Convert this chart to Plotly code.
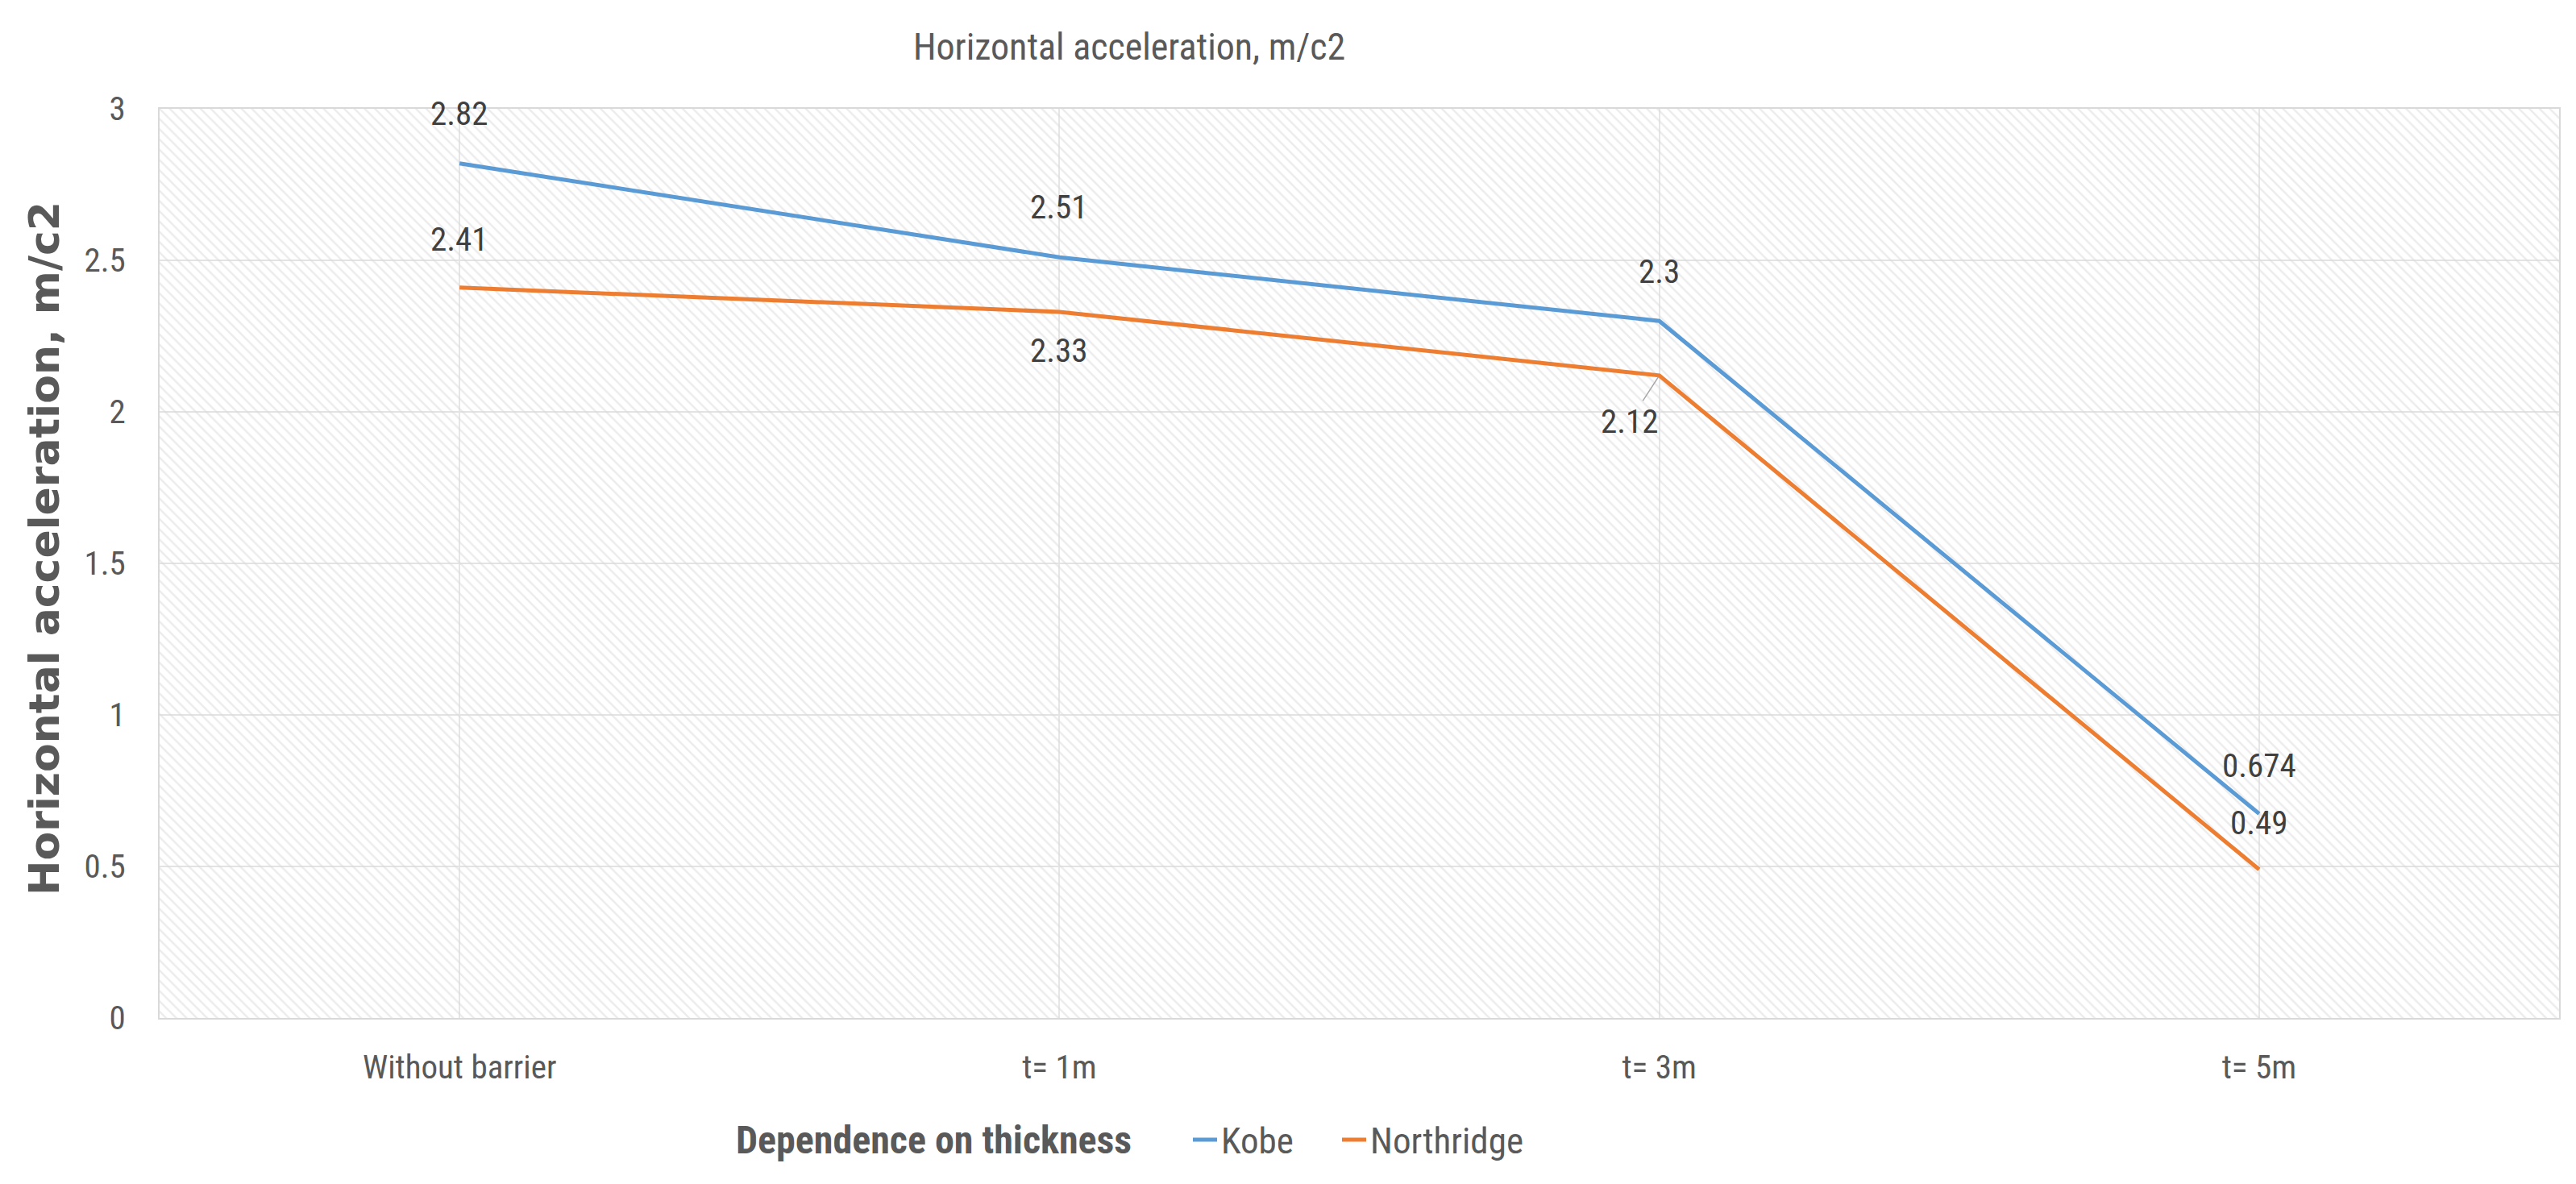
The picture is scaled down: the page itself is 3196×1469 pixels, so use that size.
import plotly.graph_objects as go

# ---- data ----
categories = ["Without barrier", "t= 1m", "t= 3m", "t= 5m"]
kobe = [2.82, 2.51, 2.3, 0.674]
northridge = [2.41, 2.33, 2.12, 0.49]
y_ticks = [0, 0.5, 1, 1.5, 2, 2.5, 3]

title_text = "Horizontal acceleration, m/c2"
y_title_text = "Horizontal acceleration, m/c2"
x_title_text = "Dependence on thickness"

# ---- styles ----
W, H = 3196, 1469
ML, MR, MT, MB = 190, 29, 127, 214
NARROW = "Liberation Sans Narrow, Arial Narrow, Roboto Condensed, sans-serif"
KOBE_COLOR = "#5B9BD5"
NR_COLOR = "#ED7D31"
TXT = "#595959"
LBL = "#404040"
Y_MAX = y_ticks[-1]
PW = W - ML - MR

fig = go.Figure()

# hatched plot background (bars spanning full category width up to axis top)
fig.add_trace(go.Bar(
    x=categories, y=[Y_MAX] * len(categories), width=1,
    marker=dict(color="rgba(0,0,0,0)", line=dict(width=0),
                pattern=dict(shape="\\", fgcolor="#d9d9d9", bgcolor="rgba(0,0,0,0)",
                             size=9, solidity=0.28)),
    hoverinfo="skip", showlegend=False))

fig.add_trace(go.Scatter(x=categories, y=kobe, mode="lines", name="Kobe",
                         line=dict(color=KOBE_COLOR, width=5), legend="legend"))
fig.add_trace(go.Scatter(x=categories, y=northridge, mode="lines", name="Northridge",
                         line=dict(color=NR_COLOR, width=5), legend="legend2"))

# data labels
kobe_shift = [(0, 62), (0, 62), (0, 61), (0, 60)]
nr_shift = [(0, 60), (0, -48), None, (0, 58)]
for c, v, s in zip(categories, kobe, kobe_shift):
    fig.add_annotation(x=c, y=v, text=str(v), showarrow=False, xshift=s[0], yshift=s[1],
                       font=dict(family=NARROW, size=41, color=LBL))
for c, v, s in zip(categories, northridge, nr_shift):
    if s is None:
        fig.add_annotation(x=c, y=v, text=str(v), showarrow=True, ax=-37, ay=57,
                           arrowhead=0, arrowwidth=1.5, arrowcolor="#a6a6a6", standoff=2,
                           font=dict(family=NARROW, size=41, color=LBL))
    else:
        fig.add_annotation(x=c, y=v, text=str(v), showarrow=False, xshift=s[0], yshift=s[1],
                           font=dict(family=NARROW, size=41, color=LBL))

# y axis title
fig.add_annotation(xref="paper", yref="paper", x=(47 - ML) / PW, y=0.516,
                   text=y_title_text, textangle=-90, showarrow=False,
                   xanchor="center", yanchor="middle",
                   font=dict(family="DejaVu Sans", size=52, color=TXT, weight="bold"))
# x axis title (left of legend)
fig.add_annotation(xref="paper", yref="paper", x=(1150 - ML) / PW, y=-0.134,
                   text=x_title_text, showarrow=False, xanchor="center", yanchor="middle",
                   font=dict(family=NARROW, size=48, color=TXT, weight="bold"))

legend_common = dict(orientation="h", xanchor="left", y=-0.134, yanchor="middle",
                     font=dict(family=NARROW, size=45, color=TXT),
                     bgcolor="rgba(0,0,0,0)", itemwidth=30)

fig.update_layout(
    width=W, height=H, autosize=False,
    margin=dict(l=ML, r=MR, t=MT, b=MB),
    paper_bgcolor="white", plot_bgcolor="white",
    title=dict(text=title_text, x=1125 / W, xanchor="left", y=1 - 50 / H, yanchor="middle",
               font=dict(family=NARROW, size=46, color=TXT)),
    showlegend=True,
    legend=dict(x=(1467 - ML) / PW, **legend_common),
    legend2=dict(x=(1652 - ML) / PW, **legend_common),
    xaxis=dict(type="category", showgrid=True, gridcolor="#e6e6e6", gridwidth=1.5,
               showline=True, linecolor="#d9d9d9", linewidth=2, mirror=True,
               ticks="", ticklabelstandoff=24, range=[-0.5, len(categories) - 0.5],
               tickfont=dict(family=NARROW, size=41, color=TXT)),
    yaxis=dict(range=[0, Y_MAX], tickvals=y_ticks, showgrid=True, gridcolor="#e3e3e3",
               gridwidth=2, zeroline=False, showline=True, linecolor="#d9d9d9", linewidth=2,
               mirror=True, ticks="", ticklabelstandoff=32,
               tickfont=dict(family=NARROW, size=41, color=TXT)),
    hovermode=False,
)

fig.write_html("out.html")
